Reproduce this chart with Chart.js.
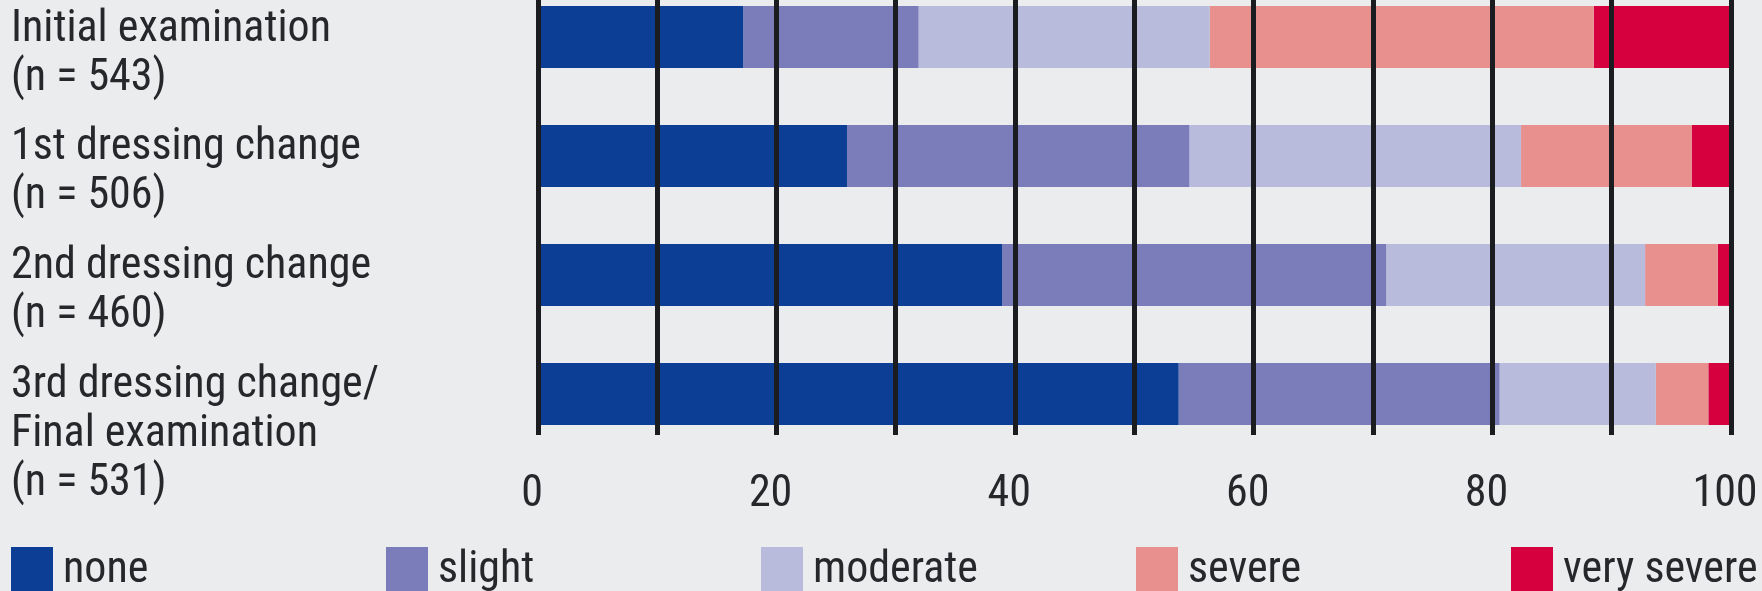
<!DOCTYPE html>
<html>
<head>
<meta charset="utf-8">
<script src="https://cdn.jsdelivr.net/npm/chart.js@4/dist/chart.umd.min.js"></script>
<style>
  html, body { margin: 0; padding: 0; background: #ebecee; }
  #wrap { position: relative; width: 1762px; height: 591px; overflow: hidden; }
  #legend { position: absolute; left: 11px; top: 547px; display: flex; }
  .item { width: 375px; display: flex; align-items: flex-start; }
  .box { width: 42px; height: 44px; flex: none; }
  .txt { margin-left: 10px; margin-top: -2px; font: 44px "Roboto Condensed", "Liberation Sans", sans-serif; color: #26272a; line-height: 44px; }
</style>
</head>
<body>
<div id="wrap">
  <canvas id="myChart" width="1762" height="591"></canvas>
  <div id="legend"></div>
</div>
<script>
// rows, top to bottom
const rowLabels = [
  ['Initial examination', '(n = 543)'],
  ['1st dressing change', '(n = 506)'],
  ['2nd dressing change', '(n = 460)'],
  ['3rd dressing change/', 'Final examination', '(n = 531)']
];

// percent of wounds per row
const noneValues = [17.2, 25.9, 38.9, 53.7];
const slightValues = [14.7, 28.7, 32.2, 26.9];
const moderateValues = [24.4, 27.8, 21.7, 13.1];
const severeValues = [32.2, 14.3, 6.1, 4.4];
const verySevereValues = [11.5, 3.3, 1.1, 1.9];

const xTicks = [0, 20, 40, 60, 80, 100];

const seriesNames = ['none', 'slight', 'moderate', 'severe', 'very severe'];
const seriesColors = ['#0c3e96', '#7a7dba', '#b8bbdc', '#e8908e', '#d5003d'];

const labelFont = { family: "'Roboto Condensed', 'Liberation Sans', sans-serif", size: 44 };
const textColor = '#26272a';

function toPoints(values) {
  return values.map((v, i) => ({ x: v, y: i }));
}

const allValues = [noneValues, slightValues, moderateValues, severeValues, verySevereValues];

const mydatasets = allValues.map((vals, i) => ({
  label: seriesNames[i],
  data: toPoints(vals),
  backgroundColor: seriesColors[i],
  borderWidth: 0,
  categoryPercentage: 0.52,
  barPercentage: 1
}));

const myChart = new Chart(document.getElementById('myChart'), {
  type: 'bar',
  data: { datasets: mydatasets },
  options: {
    indexAxis: 'y',
    responsive: false,
    animation: false,
    layout: { padding: { left: 11, right: 31, top: 0, bottom: 0 } },
    plugins: {
      legend: { display: false },
      tooltip: { enabled: false }
    },
    scales: {
      x: {
        type: 'linear',
        stacked: true,
        min: 0,
        max: 100,
        border: { display: false },
        grid: { color: '#1b1c1f', lineWidth: 5, drawTicks: false, z: 1 },
        ticks: {
          stepSize: 10,
          autoSkip: false,
          maxRotation: 0,
          padding: 34,
          labelOffset: -6,
          color: textColor,
          font: labelFont,
          callback: (v) => xTicks.includes(v) ? String(v) : ''
        },
        afterFit: (scale) => {
          scale.height = 156;
          scale.paddingLeft = 0;
          scale.paddingRight = 0;
        }
      },
      y: {
        type: 'linear',
        stacked: true,
        reverse: true,
        offset: false,
        min: -0.311,
        max: 3.345,
        border: { display: false },
        grid: { display: false },
        afterBuildTicks: (scale) => {
          scale.ticks = rowLabels.map((_, i) => ({ value: i }));
        },
        ticks: {
          autoSkip: false,
          crossAlign: 'far',
          labelOffset: 17,
          color: textColor,
          font: { family: labelFont.family, size: 44, lineHeight: 49 / 44 },
          // the 3-line label sits lower, like in the print
          callback: (v) => {
            const lab = rowLabels[v];
            return lab.length > 2 ? [''].concat(lab) : lab;
          }
        },
        afterFit: (scale) => {
          scale.width = 527;
          scale.paddingTop = 0;
          scale.paddingBottom = 0;
        }
      }
    }
  }
});

// html legend built from the chart datasets
const legendEl = document.getElementById('legend');
myChart.data.datasets.forEach(ds => {
  const item = document.createElement('div');
  item.className = 'item';
  const box = document.createElement('div');
  box.className = 'box';
  box.style.background = ds.backgroundColor;
  const txt = document.createElement('span');
  txt.className = 'txt';
  txt.textContent = ds.label;
  item.appendChild(box);
  item.appendChild(txt);
  legendEl.appendChild(item);
});
</script>
</body>
</html>
